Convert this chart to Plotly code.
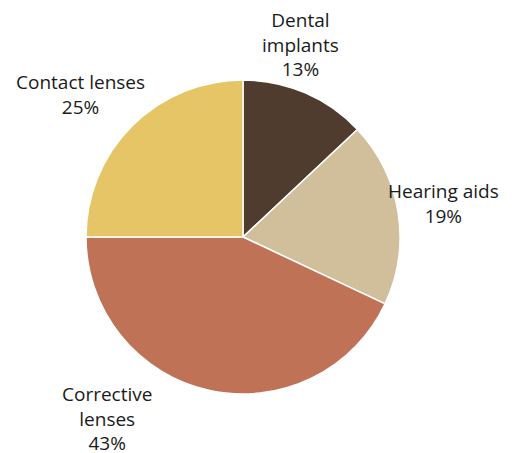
import plotly.graph_objects as go

labels = ["Dental implants", "Hearing aids", "Corrective lenses", "Contact lenses"]
label_lines = ["Dental<br>implants", "Hearing aids", "Corrective<br>lenses", "Contact lenses"]
shares = [13, 19, 43, 25]
colors = ["#4f3c2f", "#d1bf9c", "#c07256", "#e6c567"]

W, H = 527, 453
# label anchor centres in pixels (x, y from top)
label_pos = [(300, 44), (443, 203), (107, 418), (80, 95)]

fig = go.Figure(go.Pie(
    labels=labels,
    values=shares,
    sort=False,
    direction="clockwise",
    rotation=0,
    marker=dict(colors=colors, line=dict(color="white", width=1.5)),
    textinfo="none",
    hoverinfo="label+percent",
    showlegend=False,
    domain=dict(x=[86 / W, 400 / W], y=[1 - 394 / H, 1 - 80 / H]),
))

for txt, val, (px, py) in zip(label_lines, shares, label_pos):
    fig.add_annotation(
        x=px / W, y=1 - py / H, xref="paper", yref="paper",
        text=f"{txt}<br>{val}%", showarrow=False,
        xanchor="center", yanchor="middle", align="center",
        font=dict(family="Open Sans", size=19, color="#1a1a1a"),
    )

fig.update_layout(
    width=W, height=H,
    margin=dict(l=0, r=0, t=0, b=0),
    paper_bgcolor="white",
    plot_bgcolor="white",
)

fig.write_html("out.html", config={"displayModeBar": False},
               post_script="document.body.style.margin='0';")
